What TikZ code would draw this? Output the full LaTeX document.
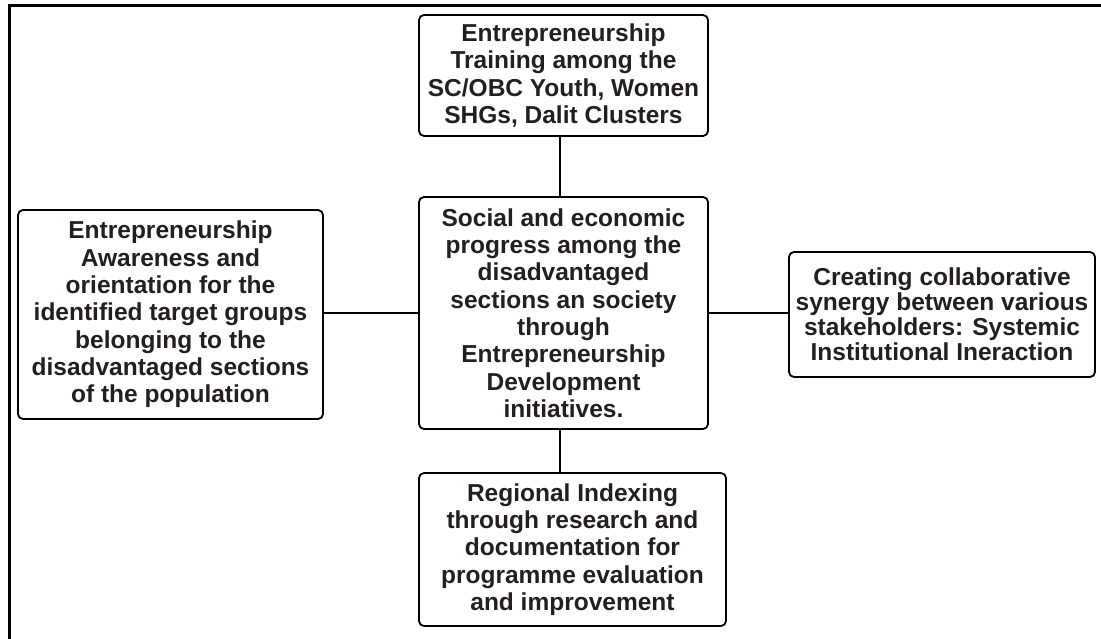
\documentclass[tikz,border=0pt]{standalone}
\usepackage{fontspec}
\setmainfont{Liberation Sans}
\definecolor{txt}{HTML}{231F20}
\begin{document}
\begin{tikzpicture}[x=1pt,y=1pt,
  box/.style={draw=black, line width=1.8pt, rounded corners=5pt, inner sep=0pt,
    align=center, text=txt, font=\fontsize{24.5}{27.3}\selectfont\bfseries},
  link/.style={draw=black, line width=1.8pt}]
\useasboundingbox (0,0) rectangle (1101,-639);
\draw[line width=3pt] (9,-639) -- (9,-6) -- (1101,-6);
\node[box, minimum width=289, minimum height=121] (top) at (563.5,-75.5)
  {Entrepreneurship\\Training among the\\SC/OBC Youth, Women\\SHGs, Dalit Clusters};
\node[box, minimum width=289, minimum height=232] (mid) at (563.5,-313)
  {Social and economic\\progress among the\\disadvantaged\\sections an society\\through\\Entrepreneurship\\Development\\initiatives.};
\node[box, minimum width=307, minimum height=153] (bot) at (572.5,-549.5)
  {Regional Indexing\\through research and\\documentation for\\programme evaluation\\and improvement};
\node[box, minimum width=305, minimum height=209] (lft) at (170.5,-314.5)
  {Entrepreneurship\\Awareness and\\orientation for the\\identified target groups\\belonging to the\\disadvantaged sections\\of the population};
\node[box, minimum width=306, minimum height=125, font=\fontsize{24.5}{25}\selectfont\bfseries] (rgt) at (942,-314.5)
  {Creating collaborative\\synergy between various\\stakeholders: Systemic\\Institutional Ineraction};
\coordinate (cx) at (560,0);
\coordinate (cy) at (0,-313);
\draw[link] (top.south -| cx) -- (mid.north -| cx);
\draw[link] (mid.south -| cx) -- (bot.north -| cx);
\draw[link] (lft.east |- cy) -- (mid.west |- cy);
\draw[link] (mid.east |- cy) -- (rgt.west |- cy);
\end{tikzpicture}
\end{document}
